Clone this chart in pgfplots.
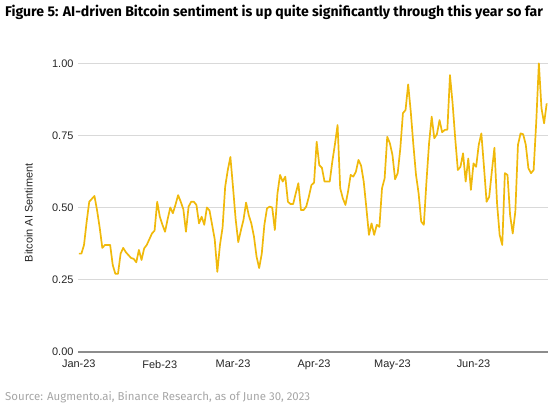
\documentclass[border=0pt]{standalone}
\usepackage{fontspec}
\setmainfont{Liberation Sans}
\newfontfamily\titlefont{Fira Sans}
\usepackage{pgfplots}
\usepackage{pgfplotstable}
\pgfplotsset{compat=1.18}
\definecolor{btc}{HTML}{F0B90B}
\definecolor{gridc}{HTML}{D9D9D9}
\definecolor{axisc}{HTML}{8C8C8C}
\definecolor{srcc}{HTML}{A6A6A6}

\pgfplotstableread{
d v
0 0.34
1 0.34
2 0.37
3 0.45
4 0.52
5 0.53
6 0.54
7 0.49
8 0.43
9 0.36
10 0.37
11 0.37
12 0.37
13 0.30
14 0.27
15 0.27
16 0.34
17 0.36
18 0.345
19 0.335
20 0.325
21 0.322
22 0.31
23 0.353
24 0.318
25 0.358
26 0.37
27 0.39
28 0.41
29 0.42
30 0.52
31 0.468
32 0.44
33 0.416
34 0.46
35 0.50
36 0.48
37 0.51
38 0.543
39 0.52
40 0.494
41 0.416
42 0.503
43 0.52
44 0.52
45 0.509
46 0.445
47 0.468
48 0.44
49 0.50
50 0.49
51 0.44
52 0.39
53 0.277
54 0.37
55 0.43
56 0.572
57 0.63
58 0.675
59 0.57
60 0.46
61 0.38
62 0.42
63 0.457
64 0.517
65 0.474
66 0.445
67 0.40
68 0.33
69 0.29
70 0.34
71 0.44
72 0.497
73 0.503
74 0.50
75 0.422
76 0.549
77 0.613
78 0.59
79 0.607
80 0.52
81 0.512
82 0.512
83 0.549
84 0.584
85 0.491
86 0.491
87 0.503
88 0.537
89 0.578
90 0.586
91 0.728
92 0.647
93 0.638
94 0.59
95 0.59
96 0.59
97 0.66
98 0.72
99 0.786
100 0.567
101 0.532
102 0.509
103 0.555
104 0.613
105 0.607
106 0.624
107 0.665
108 0.645
109 0.59
110 0.50
111 0.405
112 0.445
113 0.405
114 0.44
115 0.433
116 0.567
117 0.601
118 0.745
119 0.723
120 0.682
121 0.598
122 0.619
123 0.705
124 0.827
125 0.838
126 0.927
127 0.832
128 0.717
129 0.613
130 0.549
131 0.451
132 0.44
133 0.59
134 0.723
135 0.815
136 0.74
137 0.754
138 0.803
139 0.761
140 0.769
141 0.77
142 0.959
143 0.861
144 0.74
145 0.63
146 0.641
147 0.688
148 0.59
149 0.67
150 0.561
151 0.653
152 0.641
153 0.717
154 0.757
155 0.641
156 0.52
157 0.537
158 0.624
159 0.707
160 0.515
161 0.405
162 0.37
163 0.619
164 0.613
165 0.474
166 0.41
167 0.486
168 0.717
169 0.757
170 0.754
171 0.717
172 0.636
173 0.619
174 0.63
175 0.797
176 1.00
177 0.844
178 0.792
179 0.861
}\sentiment

\begin{document}
\begin{tikzpicture}[x=1bp,y=1bp]
\useasboundingbox (0,0) rectangle (555,411);
\node[anchor=west, inner sep=0pt, font=\titlefont\bfseries\fontsize{14.1}{16}\selectfont] at (5,399) {Figure 5: AI-driven Bitcoin sentiment is up quite significantly through this year so far};
\begin{axis}[
  at={(78bp,59.3bp)}, anchor=south west,
  scale only axis, width=470bp, height=288.4bp,
  xmin=-0.3, xmax=179.5, ymin=0, ymax=1,
  clip=false,
  axis line style={draw=none},
  major tick length=0pt,
  xtick={0,31,59,90,120,151},
  xticklabels={Jan-23,Feb-23,Mar-23,Apr-23,May-23,Jun-23},
  ytick={0.25,0.5,0.75,1},
  extra y ticks={0},
  extra y tick style={grid style={axisc, line width=1.6bp}},
  ymajorgrids,
  grid style={gridc, line width=0.9bp},
  /pgf/number format/fixed,
  /pgf/number format/fixed zerofill,
  /pgf/number format/precision=2,
  /pgf/number format/assume math mode=true,
  ticklabel style={font=\fontsize{11}{13}\selectfont, text=black!85},
  xticklabel style={yshift=-5bp},
  yticklabel style={xshift=-1bp},
  every axis y label/.style={at={(axis description cs:-0.105,0.482)}, rotate=90, anchor=center},
  ylabel={Bitcoin AI Sentiment},
  label style={font=\fontsize{11}{13}\selectfont, text=black!85},
]
\addplot[btc, line width=1.7bp, line join=round] table[x=d, y=v] {\sentiment};
\end{axis}
\node[anchor=west, inner sep=0pt, text=srcc, font=\titlefont\fontsize{11.5}{13}\selectfont] at (5,14) {Source: Augmento.ai, Binance Research, as of June 30, 2023};
\end{tikzpicture}
\end{document}
